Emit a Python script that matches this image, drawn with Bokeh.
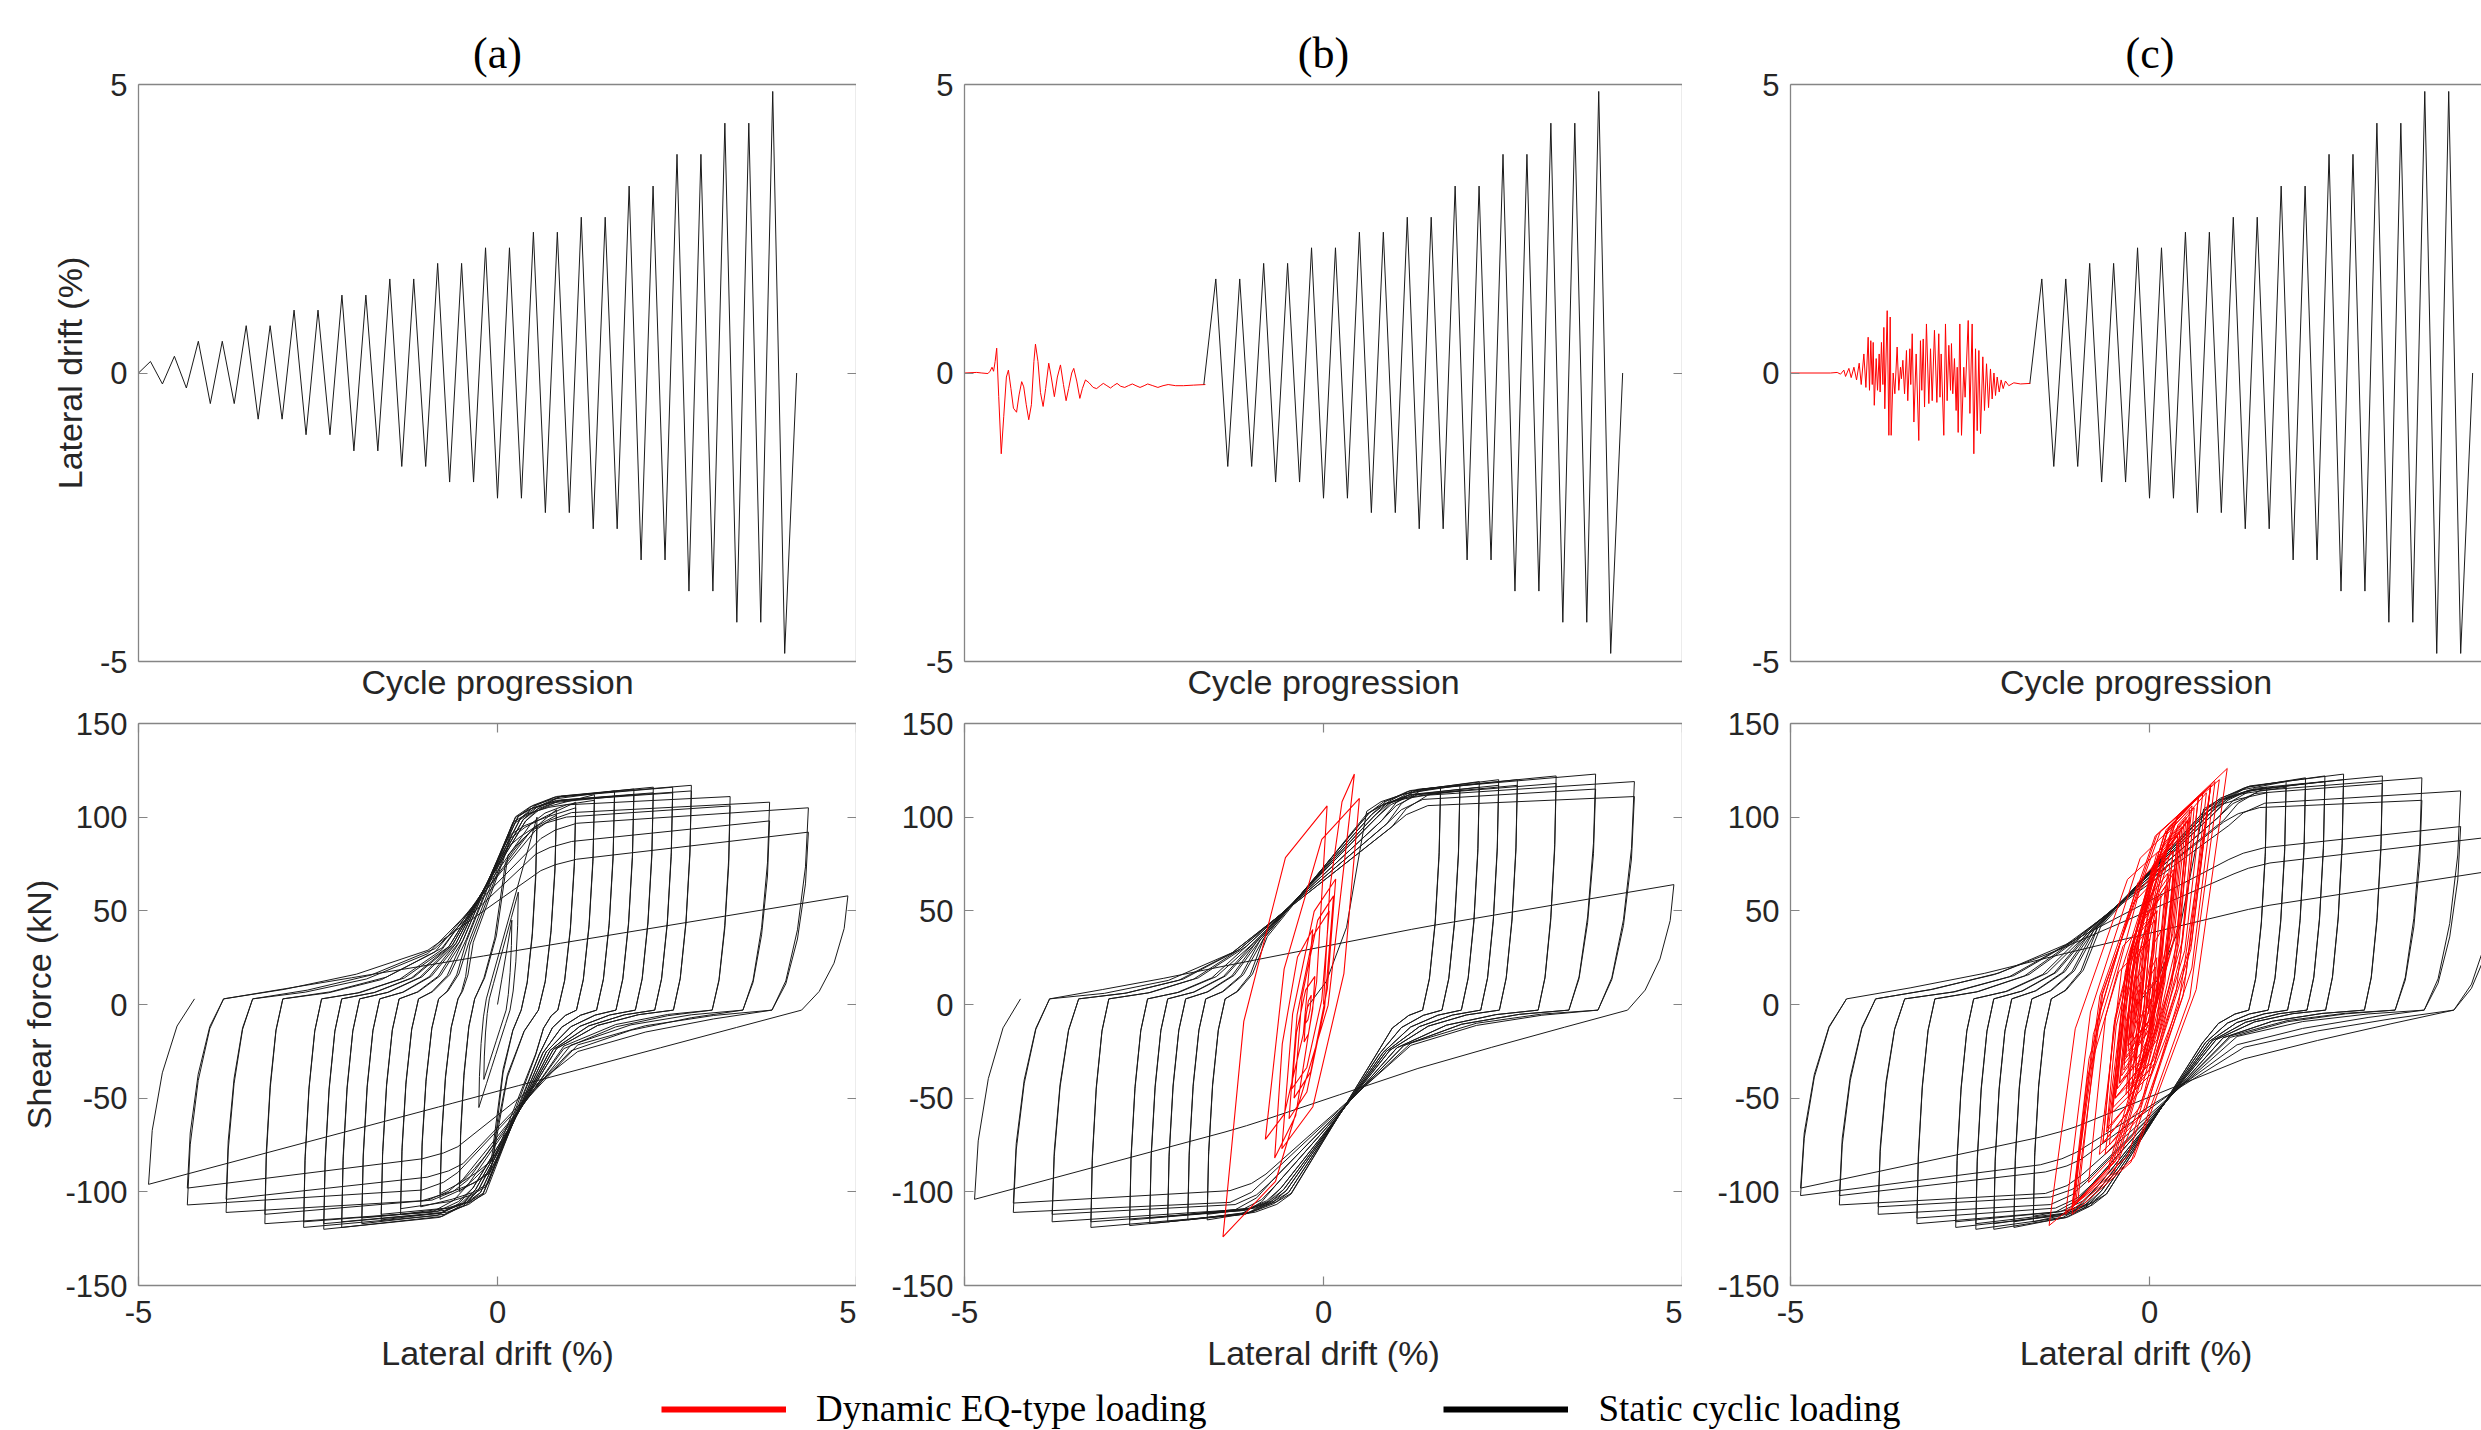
import numpy as np
from bokeh.plotting import figure
from bokeh.models import Range1d, LinearAxis, FixedTicker, Legend, LegendItem
from bokeh.layouts import row, column
from bokeh.embed import file_html
from bokeh.resources import INLINE

# ---------------- DATA ----------------
# (a) static cyclic protocol: cycle step index vs lateral drift (%) and shear force at each turning point (kN)
cycle_a = list(range(56))
drift_a = [0, 0.20, -0.19, 0.29, -0.26, 0.55, -0.53, 0.55, -0.53, 0.82, -0.80, 0.82, -0.80,
           1.09, -1.07, 1.09, -1.07, 1.35, -1.35, 1.35, -1.35, 1.63, -1.62, 1.63, -1.62,
           1.90, -1.89, 1.90, -1.89, 2.17, -2.17, 2.17, -2.17, 2.44, -2.42, 2.44, -2.42,
           2.70, -2.70, 2.70, -2.70, 3.24, -3.24, 3.24, -3.24, 3.79, -3.78, 3.79, -3.78,
           4.33, -4.32, 4.33, -4.32, 4.88, -4.86, 0]
force_a = [0, 45, -40, 60, -55, 100, -100, 96, -96, 104, -104, 101, -101, 108, -108, 105, -105,
           112, -112, 109, -109, 114, -115, 111, -112, 115, -117, 112, -114, 116, -119, 113, -116,
           116, -120, 113, -117, 117, -119, 114, -116, 111, -117, 106, -112, 108, -111, 98, -104,
           105, -107, 92, -98, 58, -96, 0]

# (b) dynamic EQ-type loading (red) followed by static cyclic loading (black)
red_b_idx = [0, 1.02, 1.45, 1.96, 2.13, 2.30, 2.43, 2.56, 2.69, 2.86, 3.07, 3.28, 3.50, 3.67, 3.88,
             4.09, 4.35, 4.56, 4.78, 4.95, 5.16, 5.37, 5.59, 5.80, 5.93, 6.14, 6.35, 6.57, 6.78, 7.04,
             7.25, 7.51, 7.76, 8.02, 8.27, 8.49, 8.70, 8.96, 9.13, 9.38, 9.64, 9.85, 10.11, 10.41,
             10.75, 11.04, 11.34, 11.60, 11.90, 12.20, 12.45, 12.75, 13.05, 13.39, 13.69, 14.03,
             14.33, 14.67, 15.01, 15.31, 15.74, 16.16, 16.59, 17.02, 17.65, 18.29, 19.15, 20.13]
red_b_drift = [0, 0.01, 0, -0.01, 0.03, 0.10, 0.03, 0.20, 0.43, -0.41, -1.40, -0.75, -0.07, 0.05,
               -0.27, -0.61, -0.68, -0.38, -0.15, -0.24, -0.55, -0.81, -0.55, 0.20, 0.50, 0.20,
               -0.34, -0.58, -0.27, 0.17, -0.07, -0.41, -0.07, 0.14, -0.20, -0.48, -0.27, 0.00,
               0.08, -0.14, -0.44, -0.27, -0.12, -0.17, -0.25, -0.27, -0.22, -0.18, -0.22, -0.26,
               -0.22, -0.18, -0.23, -0.25, -0.22, -0.19, -0.22, -0.25, -0.22, -0.19, -0.22, -0.25,
               -0.22, -0.20, -0.22, -0.22, -0.21, -0.20]
red_b_peak_drift = [0, 0.43, -1.40, 0.05, -0.68, -0.15, -0.81, 0.50, -0.58, 0.17, -0.41, 0.14,
                    -0.48, 0.08, -0.44, -0.12, -0.27, -0.17, -0.25, -0.20]
red_b_peak_force = [0, 123, -124, 106, -82, 40, -72, 110, -77, 67, -50, 58, -61, 50, -45, 15,
                    -20, 5, -10, 0]
cycle_b_black = list(range(20, 56))
drift_b_black = [-0.20, 1.63, -1.62, 1.63, -1.62, 1.90, -1.89, 1.90, -1.89, 2.17, -2.17, 2.17,
                 -2.17, 2.44, -2.42, 2.44, -2.42, 2.70, -2.70, 2.70, -2.70, 3.24, -3.24, 3.24,
                 -3.24, 3.79, -3.78, 3.79, -3.78, 4.33, -4.32, 4.33, -4.32, 4.88, -4.86, 0]
force_b_black = [0, 116, -115, 113, -112, 117, -115, 114, -112, 119, -116, 116, -113, 120, -117,
                 117, -114, 120, -118, 117, -115, 122, -119, 118, -116, 123, -116, 115, -112,
                 119, -111, 111, -106, 64, -104, 0]

# (c) dense EQ-type loading (red) followed by static cyclic loading (black)
red_c_idx = [0.00, 3.34, 3.90, 4.18, 4.46, 4.60, 4.88, 5.07, 5.30, 5.52, 5.74, 5.91, 6.13, 6.30,
             6.49, 6.60, 6.71, 6.83, 6.91, 7.00, 7.16, 7.27, 7.41, 7.49, 7.60, 7.72, 7.80, 7.88,
             8.08, 8.22, 8.33, 8.41, 8.58, 8.72, 8.91, 9.05, 9.19, 9.27, 9.39, 9.53, 9.69, 9.80,
             9.97, 10.05, 10.17, 10.31, 10.50, 10.72, 10.86, 10.97, 11.09, 11.20, 11.36, 11.56,
             11.70, 11.84, 12.03, 12.23, 12.39, 12.49, 12.59, 12.81, 12.95, 13.09, 13.23, 13.37,
             13.45, 13.56, 13.70, 13.84, 13.93, 14.01, 14.15, 14.29, 14.48, 14.59, 14.85, 14.99,
             15.18, 15.32, 15.46, 15.60, 15.74, 15.88, 16.07, 16.21, 16.38, 16.55, 16.71, 16.85,
             17.00, 17.13, 17.27, 17.44, 17.60, 17.77, 17.96, 18.24, 18.66, 19.22, 20.05]
red_c_drift = [0.00, 0.00, 0.01, -0.02, 0.05, -0.06, 0.08, -0.08, 0.10, -0.12, 0.17, -0.20, 0.33,
               -0.25, 0.62, -0.30, 0.56, -0.20, 0.53, -0.56, 0.25, -0.30, 0.33, -0.33, 0.53, -0.20,
               0.79, -0.62, 1.08, -1.08, 0.97, -1.08, 0.00, -0.36, 0.45, -0.30, 0.10, -0.10, 0.22,
               -0.36, 0.39, -0.48, 0.42, -0.20, 0.68, -0.85, 0.33, -1.17, 0.56, -0.30, 0.59, -0.59,
               0.85, -0.53, 0.42, -0.48, 0.74, -0.51, 0.68, -0.42, 0.33, -1.08, 0.85, -0.48, 0.48,
               -0.30, 0.51, -0.36, 0.25, -0.65, 0.10, -1.03, 0.85, -1.08, 0.10, -0.42, 0.91, -0.70,
               0.85, -1.40, 0.42, -1.00, 0.39, -1.05, 0.28, -0.65, 0.16, -0.60, 0.07, -0.45, 0.00,
               -0.39, -0.07, -0.33, -0.12, -0.27, -0.14, -0.22, -0.17, -0.19, -0.18]
red_c_force = [0, 0, 3, -5, 12, -12, 20, -18, 25, -25, 40, -38, 70, -45, 105, -50, 100, -35, 98,
               -75, 62, -45, 72, -48, 98, -30, 113, -80, 126, -110, 120, -112, 35, -35, 95, -25,
               50, 5, 63, -32, 90, -50, 92, -10, 111, -95, 82, -112, 104, -22, 106, -66, 117,
               -58, 92, -50, 113, -55, 111, -42, 82, -108, 117, -50, 98, -22, 100, -30, 70, -74,
               50, -106, 117, -108, 50, -42, 119, -80, 117, -118, 92, -105, 88, -107, 75, -74, 58,
               -68, 45, -45, 35, -38, 20, -28, 12, -18, 8, -8, 3, -2, 0]
cycle_c_black = list(range(20, 58))
drift_c_black = [-0.18, 1.63, -1.62, 1.63, -1.62, 1.90, -1.89, 1.90, -1.89, 2.17, -2.17, 2.17,
                 -2.17, 2.44, -2.42, 2.44, -2.42, 2.70, -2.70, 2.70, -2.70, 3.24, -3.24, 3.24,
                 -3.24, 3.79, -3.78, 3.79, -3.78, 4.33, -4.32, 4.33, -4.32, 4.88, -4.86, 4.88,
                 -4.86, 0]
force_c_black = [0, 116, -116, 113, -113, 119, -119, 116, -116, 121, -120, 118, -117, 122, -120,
                 119, -117, 123, -119, 120, -116, 122, -117, 118, -114, 121, -112, 109, -108,
                 114, -107, 95, -102, 90, -102, 72, -98, 0]

# pinching points of the reloading branches (upper: towards +, lower: towards -)
pinch_a = {"up": [(-0.55, 33), (0.30, 100)], "dn": [(0.70, -25), (-0.25, -100)]}
pinch_b = {"up": [(-0.85, 35), (0.65, 102)], "dn": [(0.80, -26), (-0.50, -100)]}
pinch_c = {"up": [(-0.75, 40), (0.80, 104)], "dn": [(0.80, -20), (-0.65, -100)]}

legend_labels = ["Dynamic EQ-type loading", "Static cyclic loading"]
panel_titles = ["(a)", "(b)", "(c)"]
drift_ticks = [-5, 0, 5]
force_ticks = [-150, -100, -50, 0, 50, 100, 150]

# ---------------- path builders ----------------
def loop_path(drifts, forces, pinch):
    xs, ys = [drifts[0]], [forces[0]]
    cx, cf = drifts[0], forces[0]
    n = len(drifts)
    for i in range(1, n):
        bx, bf = drifts[i], forces[i]
        if i > 1:
            ax_, af = drifts[i - 1], forces[i - 1]
            s = 1 if bx > ax_ else -1
            d = abs(ax_)
            u = min(0.25 + max(0.0, d - 3.3) * 0.25, 0.4 * d)
            for fx, ff in ((0.08, 0.7), (0.3, 0.38), (0.62, 0.12)):
                xs.append(ax_ + s * fx * u)
                ys.append(af * ff)
            cx, cf = ax_ + s * u, s * 3.0
            xs.append(cx)
            ys.append(cf)
            if i == n - 1 and bf == 0:
                break
            prev_f = abs(af)
        else:
            s = 1 if bx > cx else -1
            prev_f = abs(bf)
        pins = pinch["up"] if s > 0 else pinch["dn"]
        w = min(1.0, max(0.0, (min(abs(bf), prev_f) - 60.0) / 50.0))
        amp = abs(bx)
        nodes = []
        for k, (px, pf) in enumerate(pins):
            if k == 0:
                px = px - s * 0.18 * (amp - 2.0)
                pf = pf * (1 - 0.09 * (amp - 2.0))
            else:
                px = px + s * 0.13 * (amp - 2.0)
                pf = pf * (1 - 0.03 * (amp - 2.0))
            if s * (px - cx) > 0.1 and s * (bx - px) > 0.15:
                if abs(pf) > 0.9 * abs(bf):
                    pf = 0.9 * bf
                nodes.append((px, pf))
        first = nodes[0] if nodes else (bx, bf)
        pts = [(cx + 0.3 * (first[0] - cx), cf + 0.12 * (first[1] - cf)),
               (cx + 0.65 * (first[0] - cx), cf + 0.4 * (first[1] - cf))]
        for j, nd in enumerate(nodes):
            if j > 0:
                p0 = nodes[j - 1]
                pts.append((p0[0] + 0.5 * (nd[0] - p0[0]), p0[1] + 0.5 * (nd[1] - p0[1])))
            pts.append(nd)
        if nodes:
            lx, lf = nodes[-1]
            span = abs(bx - lx)
            pts.append((lx + s * min(0.2, 0.25 * span), lf + 0.4 * (bf - lf)))
            pts.append((lx + s * min(0.5, 0.55 * span), lf + 0.7 * (bf - lf)))
        for (x, f) in pts:
            f_lin = cf + (x - cx) / (bx - cx) * (bf - cf)
            xs.append(x)
            ys.append(w * f + (1 - w) * f_lin)
        xs.append(bx)
        ys.append(bf)
        cx, cf = bx, bf
    return xs, ys


def eq_path(dr, fr):
    xs, ys = [dr[0]], [fr[0]]
    for i in range(1, len(dr)):
        x0, f0, x1, f1 = dr[i - 1], fr[i - 1], dr[i], fr[i]
        dx, df = x1 - x0, f1 - f0
        xs += [x0 + 0.2 * dx, x0 + 0.6 * dx, x1]
        ys += [f0 + 0.5 * df, f0 + 0.88 * df, f1]
    return xs, ys

# ---------------- styling helpers ----------------
AX_COL = "#858585"
TXT_COL = "#262626"
SANS = "Liberation Sans"
SERIF = "Liberation Serif"
BLACK = "#1a1a1a"
RED = "#ff0000"


def add_axis(p, side, ticks, show_labels, label=None, standoff=11, label_standoff=6):
    ax = LinearAxis(ticker=FixedTicker(ticks=ticks))
    ax.axis_line_color = AX_COL
    ax.axis_line_width = 1.3
    ax.major_tick_line_color = AX_COL
    ax.major_tick_line_width = 1.2
    ax.major_tick_in = 9
    ax.major_tick_out = 0
    ax.minor_tick_line_color = None
    ax.major_label_text_font = SANS
    ax.major_label_text_color = TXT_COL
    ax.major_label_text_font_size = "31px"
    if show_labels:
        ax.major_label_standoff = standoff
        ax.major_label_overrides = {t: ("%g" % t) for t in ticks}
    else:
        ax.major_label_standoff = 0
        ax.major_label_overrides = {t: "" for t in ticks}
    if label:
        ax.axis_label = label
        ax.axis_label_text_font = SANS
        ax.axis_label_text_font_size = "34px"
        ax.axis_label_text_font_style = "normal"
        ax.axis_label_text_color = TXT_COL
        ax.axis_label_standoff = label_standoff
    p.add_layout(ax, side)
    return ax


def panel(fw, fh, xr, yr, bl, br, bt, bb):
    p = figure(frame_width=fw, frame_height=fh, x_range=Range1d(*xr), y_range=Range1d(*yr),
               output_backend="svg", toolbar_location=None,
               x_axis_location=None, y_axis_location=None,
               min_border_left=bl, min_border_right=br, min_border_top=bt, min_border_bottom=bb)
    p.outline_line_color = None
    for g in p.grid:
        g.visible = False
    p.background_fill_color = "white"
    p.border_fill_color = "white"
    return p


def set_title(p, text, offset=None):
    p.title.text = text
    p.title.text_font = SERIF
    p.title.text_font_size = "44px"
    p.title.text_font_style = "normal"
    p.title.text_color = "black"
    p.title.standoff = 14
    if offset is None:
        p.title.align = "center"
    else:
        p.title.align = "left"
        p.title.offset = offset

# ---------------- top row: drift histories ----------------
FW, FW_C, FH_T, FH_B = 718, 691, 577, 562
pa_t = panel(FW, FH_T, (0, 60), (-5, 5), 138, 0, 84, 44)
pb_t = panel(FW, FH_T, (0, 60), (-5, 5), 108, 0, 84, 44)
pc_t = panel(FW_C, FH_T, (0, 57.74), (-5, 5), 108, 0, 84, 44)

for i, p in enumerate([pa_t, pb_t, pc_t]):
    add_axis(p, "left", drift_ticks, True, "Lateral drift (%)" if i == 0 else None,
             standoff=11, label_standoff=8)
    add_axis(p, "below", [], False, "Cycle progression", label_standoff=1)
    add_axis(p, "above", [], False)
    if i < 2:
        add_axis(p, "right", drift_ticks, False)

set_title(pa_t, panel_titles[0])
set_title(pb_t, panel_titles[1])
set_title(pc_t, panel_titles[2], offset=335)

pa_t.line(cycle_a, drift_a, line_color=BLACK, line_width=1)
pb_t.line(red_b_idx, red_b_drift, line_color=RED, line_width=1)
pb_t.line(cycle_b_black, drift_b_black, line_color=BLACK, line_width=1)
pc_t.line(red_c_idx, red_c_drift, line_color=RED, line_width=1)
pc_t.line(cycle_c_black, drift_c_black, line_color=BLACK, line_width=1)

# ---------------- bottom row: hysteresis loops ----------------
pa_b = panel(FW, FH_B, (-5, 5), (-150, 150), 138, 0, 18, 100)
pb_b = panel(FW, FH_B, (-5, 5), (-150, 150), 108, 0, 18, 100)
pc_b = panel(FW_C, FH_B, (-5, 4.62), (-150, 150), 108, 0, 18, 100)

for i, p in enumerate([pa_b, pb_b, pc_b]):
    add_axis(p, "left", force_ticks, True, "Shear force (kN)" if i == 0 else None,
             standoff=11, label_standoff=4)
    add_axis(p, "below", drift_ticks, True, "Lateral drift (%)", standoff=15, label_standoff=8)
    add_axis(p, "above", drift_ticks, False)
    if i < 2:
        add_axis(p, "right", force_ticks, False)

xa, ya = loop_path(drift_a, force_a, pinch_a)
pa_b.line(xa, ya, line_color=BLACK, line_width=1.0)

xb, yb = loop_path(drift_b_black, force_b_black, pinch_b)
pb_b.line(xb, yb, line_color=BLACK, line_width=1.0)
xbr, ybr = eq_path(red_b_peak_drift, red_b_peak_force)
pb_b.line(xbr, ybr, line_color=RED, line_width=1.1)

xc, yc = loop_path(drift_c_black, force_c_black, pinch_c)
pc_b.line(xc, yc, line_color=BLACK, line_width=1.0)
xcr, ycr = eq_path(red_c_drift, red_c_force)
pc_b.line(xcr, ycr, line_color=RED, line_width=1.0)

# ---------------- legend row ----------------
lg = figure(width=2481, height=45, x_range=Range1d(0, 1), y_range=Range1d(0, 1),
            output_backend="svg", toolbar_location=None, min_border=0,
            x_axis_location=None, y_axis_location=None)
lg.outline_line_color = None
for g in lg.grid:
    g.visible = False
r_red = lg.line(x=[5, 6], y=[5, 6], line_color=RED, line_width=6)
r_blk = lg.line(x=[5, 6], y=[5, 6], line_color="black", line_width=6)
legend = Legend(items=[LegendItem(label=legend_labels[0], renderers=[r_red]),
                       LegendItem(label=legend_labels[1], renderers=[r_blk])],
                orientation="horizontal", location=(661, 0), glyph_width=125,
                label_standoff=30, spacing=237, padding=0, margin=0,
                label_text_font=SERIF, label_text_font_size="37px",
                label_text_color="black", border_line_color=None,
                background_fill_alpha=0)
lg.add_layout(legend)

layout = column(row(pa_t, pb_t, pc_t, spacing=0), row(pa_b, pb_b, pc_b, spacing=0), lg, spacing=0)

with open("out.html", "w") as f:
    f.write(file_html(layout, INLINE))
